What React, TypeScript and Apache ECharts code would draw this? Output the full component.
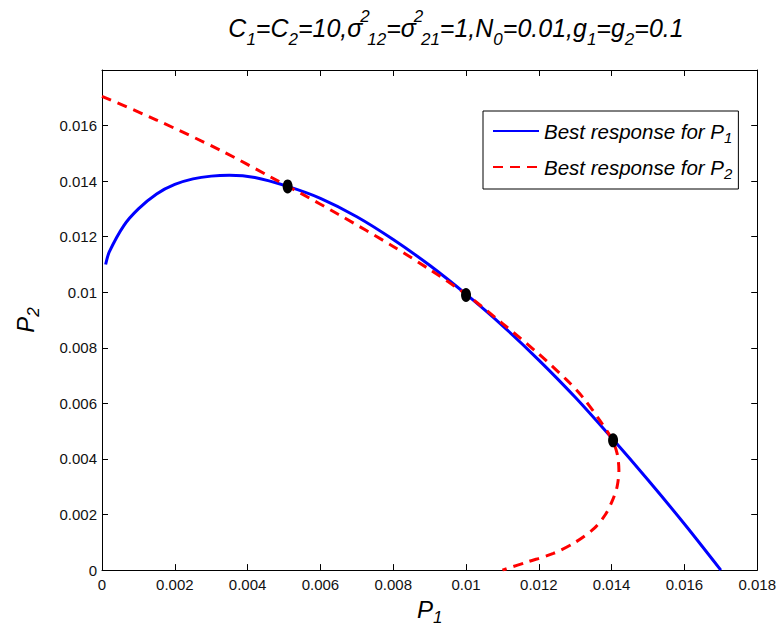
import React, { useEffect, useRef } from "react";
import * as echarts from "echarts";

const FONT = "'Liberation Sans', Arial, Helvetica, sans-serif";

// Axis ranges / ticks
const axisMin = 0;
const axisMax = 0.018;
const axisStep = 0.002;

// Series names
const nameP1 = "Best response for P1";
const nameP2 = "Best response for P2";

// Best response for P1 (blue, solid): P1 values and matching P2 values
const blueP1 = [0.0001, 0.0002, 0.0006, 0.0010, 0.0015, 0.0020, 0.0025, 0.0030, 0.0035, 0.0042, 0.0051, 0.0060, 0.0070, 0.0080, 0.0090, 0.0100, 0.0110, 0.0120, 0.0130, 0.0140, 0.0150, 0.0160, 0.0170];
const blueP2 = [0.0110, 0.01145, 0.0124, 0.0130, 0.01354, 0.01388, 0.01408, 0.01418, 0.01421, 0.01413, 0.01381, 0.01338, 0.01272, 0.01190, 0.01097, 0.00993, 0.00880, 0.00756, 0.00622, 0.00476, 0.00324, 0.00166, 0.0];

// Best response for P2 (red, dashed): P1 values and matching P2 values
const redP1 = [0, 0.0015, 0.0033, 0.00463, 0.00545, 0.0065, 0.0080, 0.0090, 0.0100, 0.01098, 0.01198, 0.01280, 0.01322, 0.01367, 0.01401, 0.01415, 0.01420, 0.01415, 0.01402, 0.01383, 0.01352, 0.01300, 0.01240, 0.01170, 0.01100];
const redP2 = [0.01705, 0.01620, 0.01508, 0.01415, 0.01357, 0.01280, 0.01165, 0.01082, 0.00993, 0.0089, 0.0078, 0.0068, 0.0062, 0.0054, 0.0047, 0.0042, 0.0036, 0.0030, 0.0025, 0.0020, 0.0015, 0.0010, 0.0006, 0.0003, 0.0];

// Equilibrium points (black dots)
const eqP1 = [0.0051, 0.0100, 0.01404];
const eqP2 = [0.01381, 0.0099, 0.00467];

const zip = (a: number[], b: number[]) => a.map((v, i) => [v, b[i]]);
const fmt = (v: number) => String(parseFloat(v.toFixed(4)));

export default function App() {
  const ref = useRef<HTMLDivElement>(null);

  useEffect(() => {
    if (!ref.current) return;
    const chart = echarts.init(ref.current, null, { renderer: "svg" });

    const baseText = { fontFamily: FONT, fontStyle: "italic", color: "#000", fill: "#000" };

    const axisCommon = {
      type: "value",
      min: axisMin,
      max: axisMax,
      interval: axisStep,
      splitLine: { show: false },
      axisLine: { show: true, onZero: false, lineStyle: { color: "#000", width: 1 } },
      axisTick: { show: true, inside: true, length: 6, lineStyle: { color: "#000", width: 1 } },
    };

    const labelStyle = {
      fontSize: 15,
      fontFamily: FONT,
      color: "#111",
      formatter: (v: number) => fmt(v),
    };

    const nameRich = {
      i: { ...baseText, fontSize: 24, lineHeight: 34, verticalAlign: "middle" },
      s: { ...baseText, fontSize: 17, lineHeight: 12, verticalAlign: "bottom" },
    };

    const option = {
      animation: false,
      backgroundColor: "#fff",
      grid: { left: 102, top: 70, right: 18, bottom: 57 },
      graphic: [
        {
          type: "text",
          x: 456,
          y: 8,
          style: {
            text:
              "{m|C}{s|1}{m|=C}{s|2}{m|=10,σ}{p|2}{s|12}{m|=σ}{p|2}{s|21}{m|=1,N}{s|0}{m|=0.01,g}{s|1}{m|=g}{s|2}{m|=0.1}",
            align: "center",
            verticalAlign: "top",
            rich: {
              m: { ...baseText, fontSize: 25, lineHeight: 40, verticalAlign: "middle" },
              s: { ...baseText, fontSize: 17, lineHeight: 13, verticalAlign: "bottom" },
              p: { ...baseText, fontSize: 17, lineHeight: 13, verticalAlign: "top", width: 5 },
            },
          },
        },
      ],
      legend: {
        data: [nameP1, nameP2],
        left: 483,
        top: 111,
        orient: "vertical",
        padding: [10, 6, 8, 9],
        itemGap: 12,
        itemWidth: 46,
        itemHeight: 14,
        borderColor: "#000",
        borderWidth: 1,
        borderRadius: 0,
        backgroundColor: "#fff",
        selectedMode: false,
        itemStyle: { color: "rgba(0,0,0,0)", borderColor: "rgba(0,0,0,0)", borderWidth: 0, opacity: 0 },
        formatter: (n: string) => `{t|Best response for P}{s|${n.slice(-1)}}`,
        textStyle: {
          ...baseText,
          fontSize: 20.5,
          rich: {
            t: { ...baseText, fontSize: 20.5, lineHeight: 28, verticalAlign: "middle" },
            s: { ...baseText, fontSize: 15, lineHeight: 10, verticalAlign: "bottom" },
          },
        },
      },
      xAxis: [
        {
          ...axisCommon,
          position: "bottom",
          axisLabel: { ...labelStyle, margin: 7 },
          name: "{i|P}{s|1}",
          nameLocation: "middle",
          nameGap: 18,
          nameTextStyle: { rich: nameRich },
        },
        { ...axisCommon, position: "top", axisLabel: { show: false } },
      ],
      yAxis: [
        {
          ...axisCommon,
          position: "left",
          axisLabel: { ...labelStyle, margin: 5, showMaxLabel: false },
          name: "{i|P}{s|2}",
          nameLocation: "middle",
          nameRotate: 90,
          nameGap: 60,
          nameTextStyle: { rich: nameRich },
        },
        { ...axisCommon, position: "right", axisLabel: { show: false } },
      ],
      series: [
        {
          name: nameP1,
          type: "line",
          xAxisIndex: 0,
          yAxisIndex: 0,
          data: zip(blueP1, blueP2),
          smooth: 0.3,
          symbol: "none",
          lineStyle: { color: "#0000ff", width: 3 },
          itemStyle: { color: "#0000ff" },
          z: 2,
        },
        {
          name: nameP2,
          type: "line",
          xAxisIndex: 0,
          yAxisIndex: 0,
          data: zip(redP1, redP2),
          smooth: 0.3,
          symbol: "none",
          lineStyle: { color: "#ff0000", width: 3, type: [10, 7] },
          itemStyle: { color: "#ff0000" },
          z: 3,
        },
        {
          name: "Equilibria",
          type: "scatter",
          xAxisIndex: 0,
          yAxisIndex: 0,
          data: zip(eqP1, eqP2),
          symbol: "circle",
          symbolSize: [10, 14],
          itemStyle: { color: "#000", opacity: 1 },
          z: 5,
        },
      ],
    };

    chart.setOption(option as any);
    return () => chart.dispose();
  }, []);

  return (
    <div
      ref={ref}
      style={{ position: "absolute", left: 0, top: 0, width: 779, height: 631, background: "#fff" }}
    />
  );
}
